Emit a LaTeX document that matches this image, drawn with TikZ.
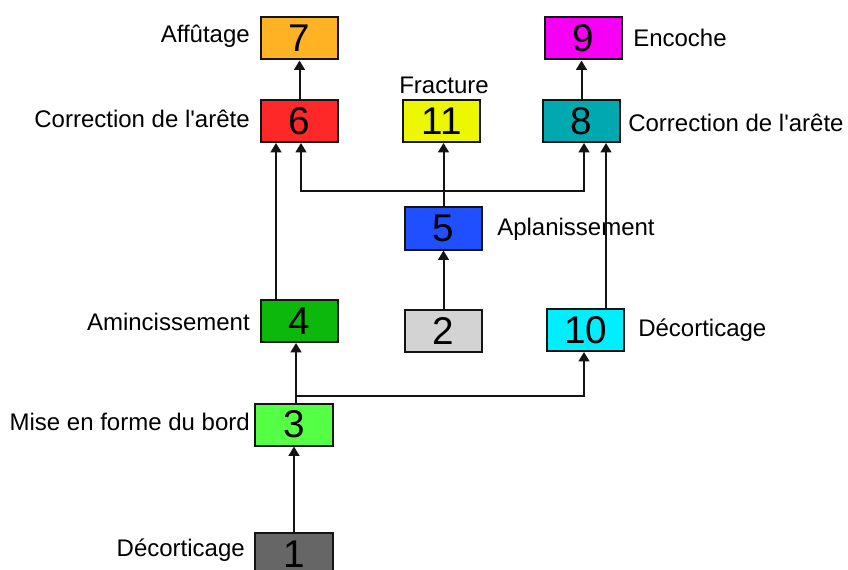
\documentclass[tikz,border=0pt]{standalone}
\usepackage{fontspec}
\setmainfont{Liberation Sans}
\newfontfamily\labelfont{Liberation Sans}
\usetikzlibrary{calc, arrows.meta}

\begin{document}
\begin{tikzpicture}[x=0.75pt, y=-0.75pt,
    stage/.style={draw=borderColour, line width=1.5pt, minimum width=58pt, minimum height=31.5pt, inner sep=0pt, font=\fontsize{29}{30}\selectfont},
    tag/.style={inner sep=0pt, font=\labelfont\fontsize{18}{20}\selectfont},
    flow/.style={draw=borderColour, line width=1.5pt, -{Triangle[length=7pt,width=8pt]}}]

    % Define colours
    \definecolor{borderColour}{HTML}{141414}
    \definecolor{oneColour}{HTML}{666666}
    \definecolor{twoColour}{HTML}{D3D3D3}
    \definecolor{threeColour}{HTML}{55FF44}
    \definecolor{fourColour}{HTML}{0BB80B}
    \definecolor{fiveColour}{HTML}{1F4FFF}
    \definecolor{sixColour}{HTML}{FF2828}
    \definecolor{sevenColour}{HTML}{FFB324}
    \definecolor{eightColour}{HTML}{00A9B0}
    \definecolor{nineColour}{HTML}{F500F5}
    \definecolor{tenColour}{HTML}{00EEFF}
    \definecolor{elevenColour}{HTML}{EDF700}

    % Fix the frame
    \clip (0,0) rectangle (848,570);

    % Draw the stages
    \node[stage, fill=sevenColour] (S7) at (299.5,38.5) {7};
    \node[stage, fill=sixColour] (S6) at (299.5,121) {6};
    \node[stage, fill=elevenColour] (S11) at (441.5,121) {11};
    \node[stage, fill=eightColour] (S8) at (581.5,121) {8};
    \node[stage, fill=nineColour] (S9) at (583.5,38.5) {9};
    \node[stage, fill=fiveColour] (S5) at (443.5,228.5) {5};
    \node[stage, fill=fourColour] (S4) at (299.5,321) {4};
    \node[stage, fill=twoColour] (S2) at (443.5,331) {2};
    \node[stage, fill=tenColour] (S10) at (585.5,330) {10};
    \node[stage, fill=threeColour] (S3) at (294,424.5) {3};
    \node[stage, fill=oneColour] (S1) at (294,554) {1};

    % Label the stages
    \node[tag, anchor=base east] (L7) at (250,43) {Affûtage};
    \node[tag, anchor=base east] (L6) at (250,128) {Correction de l'arête};
    \node[tag, anchor=base] (L11) at (444,94) {Fracture};
    \node[tag, anchor=base west] (L9) at (633,47) {Encoche};
    \node[tag, anchor=base west] (L8) at (628,132) {Correction de l'arête};
    \node[tag, anchor=base west] (L5) at (497,235) {Aplanissement};
    \node[tag, anchor=base east] (L4) at (250,330) {Amincissement};
    \node[tag, anchor=base west] (L10) at (638,336) {Décorticage};
    \node[tag, anchor=base east] (L3) at (250,430) {Mise en forme du bord};
    \node[tag, anchor=base east] (L1) at (245,556) {Décorticage};

    % Define the branching points
    \coordinate (splitThree) at (296,396);
    \coordinate (splitFive) at (443.5,191);

    % Draw the connectors
    \draw[flow] (S1) -- (S3);
    \draw[flow] (S3.north -| splitThree) -- (S4.south -| splitThree);
    \draw[flow] (splitThree) -| ($(S10.south)+(-1.5,0)$);
    \draw[flow] ($(S4.north)+(-23.5,0)$) -- ($(S6.south)+(-23.5,0)$);
    \draw[flow] (S2) -- (S5);
    \draw[flow] (S5.north) -- (S5.north |- S11.south);
    \draw[flow] (splitFive) -| ($(S6.south)+(1.5,0)$);
    \draw[flow] (splitFive) -| ($(S8.south)+(2.5,0)$);
    \draw[flow] ($(S10.north)+(20.5,0)$) -- ($(S8.south)+(24.5,0)$);
    \draw[flow] (S6) -- (S7);
    \draw[flow] (S8.north) -- (S8.north |- S9.south);
\end{tikzpicture}
\end{document}
